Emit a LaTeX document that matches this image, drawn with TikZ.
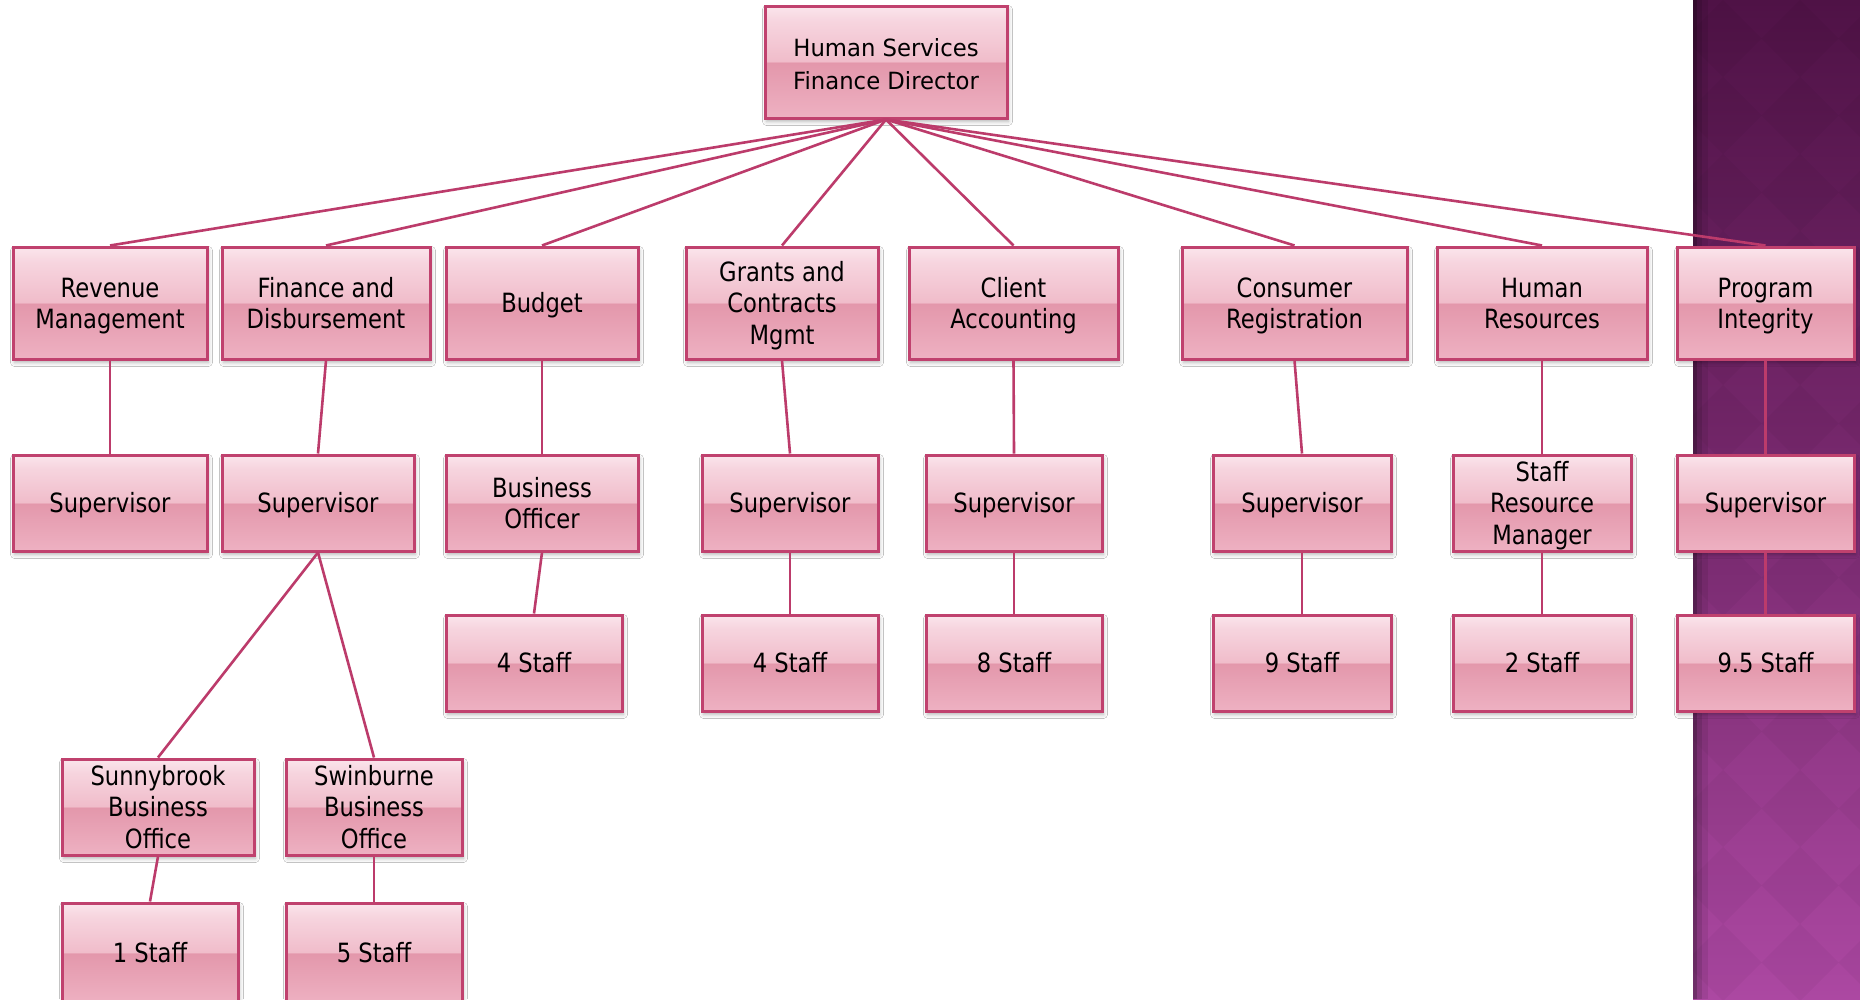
\documentclass[tikz,border=0pt]{standalone}
\usepackage{fontspec}
\setmainfont{DejaVu Sans}[FakeStretch=0.855]
\newfontfamily\topfont{DejaVu Sans}[FakeStretch=0.96]
\usetikzlibrary{shadows.blur}
\definecolor{gT}{HTML}{FBE5EC}
\definecolor{gM2}{HTML}{F0BCCA}
\definecolor{gM1}{HTML}{E397AB}
\definecolor{gB}{HTML}{EEB1C2}
\definecolor{edgecol}{HTML}{BC3B6B}
\definecolor{bordercol}{HTML}{C0416E}
\definecolor{panelTop}{HTML}{4F1246}
\definecolor{panelMid}{HTML}{7A2A70}
\definecolor{panelBot}{HTML}{AC48A2}
\pgfdeclareverticalshading{glass}{100bp}{color(0bp)=(gB); color(25bp)=(gB); color(49.9bp)=(gM1); color(50.1bp)=(gM2); color(68bp)=(gT!60!gM2); color(75bp)=(gT); color(100bp)=(gT)}
\newcommand{\bx}[7][]{\node[orgbox, minimum width={(#5-#3)*1pt}, minimum height={(#6-#4)*1pt}, #1] (#2) at ({(#3+#5)/2},{(#4+#6)/2}) {\rule{0pt}{26pt}#7\rule[-6.3pt]{0pt}{0pt}};}
\tikzset{
  orgbox/.style={draw=bordercol, line width=3pt, shading=glass, inner sep=0pt, align=center,
    font=\fontsize{26.5}{31.5}\selectfont, text=black,
    blur shadow={shadow xshift=1.5pt, shadow yshift=-3.5pt, shadow blur radius=4pt, shadow opacity=30}},
  topbox/.style={font=\topfont\fontsize{23.7}{33}\selectfont},
  link/.style={draw=edgecol, line width=2.6pt}
}
\begin{document}
\begin{tikzpicture}[x=1pt,y=-1pt]
\useasboundingbox (0,0) rectangle (1860,999);
\fill[white] (0,0) rectangle (1860,999);
% purple side panel
\shade[top color=panelTop, bottom color=panelBot, middle color=panelMid] (1693,0) rectangle (1860,999);
\begin{scope}
\clip (1693,0) rectangle (1860,999);
\foreach \i in {0,...,3}{
  \foreach \j in {0,...,13}{
    \fill[black, opacity=0.03] ({1723+\i*77},{0+\j*77}) -- ++(38.5,38.5) -- ++(-38.5,38.5) -- ++(-38.5,-38.5) -- cycle;
  }
}
\end{scope}
\fill[black, opacity=0.35] (1693,0) rectangle (1697,999);
\fill[black, opacity=0.18] (1697,0) rectangle (1702,999);
\fill[black, opacity=0.08] (1702,0) rectangle (1708,999);
% nodes
\node[orgbox, topbox, minimum width=242pt, minimum height=112pt] (top) at (886,62) {\rule{0pt}{23pt}Human Services\\Finance Director};
\bx{rev}{13}{247}{207}{359}{Revenue\\Management}
\bx{fin}{222}{247}{430}{359}{Finance and\\Disbursement}
\bx{bud}{446}{247}{638}{359}{Budget}
\bx{gra}{686}{247}{878}{359}{Grants and\\Contracts\\Mgmt}
\bx{cli}{909}{247}{1118}{359}{Client\\Accounting}
\bx{con}{1182}{247}{1407}{359}{Consumer\\Registration}
\bx{hr}{1437}{247}{1647}{359}{Human\\Resources}
\bx{pi}{1677}{247}{1854}{359}{Program\\Integrity}
\bx{sa}{13}{455}{207}{551}{Supervisor}
\bx{sb}{222}{455}{414}{551}{Supervisor}
\bx{bo}{446}{455}{638}{551}{Business\\Officer}
\bx{sc}{702}{455}{878}{551}{Supervisor}
\bx{sd}{926}{455}{1102}{551}{Supervisor}
\bx{se}{1213}{455}{1391}{551}{Supervisor}
\bx{srm}{1453}{455}{1631}{551}{Staff\\Resource\\Manager}
\bx{sf}{1677}{455}{1854}{551}{Supervisor}
\bx{ta}{446}{615}{622}{711}{4 Staff}
\bx{tb}{702}{615}{878}{711}{4 Staff}
\bx{tc}{926}{615}{1102}{711}{8 Staff}
\bx{td}{1213}{615}{1391}{711}{9 Staff}
\bx{te}{1453}{615}{1631}{711}{2 Staff}
\bx{tf}{1677}{615}{1854}{711}{9.5 Staff}
\bx{sun}{62}{759}{254}{855}{Sunnybrook\\Business\\Office}
\bx{swi}{286}{759}{462}{855}{Swinburne\\Business\\Office}
\bx{one}{62}{903}{238}{1003}{1 Staff}
\bx{five}{286}{903}{462}{1003}{5 Staff}
% connectors
\foreach \c in {rev,fin,bud,gra,cli,con,hr,pi}{\draw[link] (top.south) -- (\c.north);}
\draw[link] (rev.south) -- (sa.north);
\draw[link] (fin.south) -- (sb.north);
\draw[link] (bud.south) -- (bo.north);
\draw[link] (gra.south) -- (sc.north);
\draw[link] (cli.south) -- (sd.north);
\draw[link] (con.south) -- (se.north);
\draw[link] (hr.south) -- (srm.north);
\draw[link] (pi.south) -- (sf.north);
\draw[link] (bo.south) -- (ta.north);
\draw[link] (sc.south) -- (tb.north);
\draw[link] (sd.south) -- (tc.north);
\draw[link] (se.south) -- (td.north);
\draw[link] (srm.south) -- (te.north);
\draw[link] (sf.south) -- (tf.north);
\draw[link] (sb.south) -- (sun.north);
\draw[link] (sb.south) -- (swi.north);
\draw[link] (sun.south) -- (one.north);
\draw[link] (swi.south) -- (five.north);
\end{tikzpicture}
\end{document}
